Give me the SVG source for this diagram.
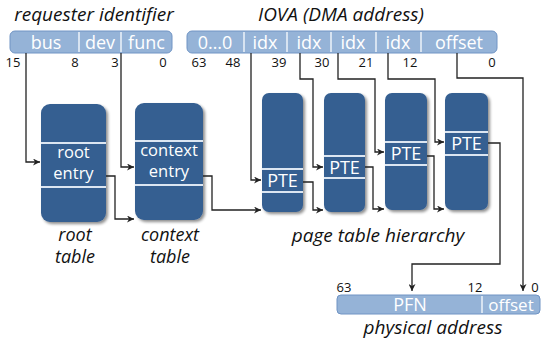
<svg xmlns="http://www.w3.org/2000/svg" width="541" height="342" viewBox="0 0 541 342">
<defs>
<marker id="arr" viewBox="0 0 10 10" refX="10" refY="5" markerWidth="7" markerHeight="7" orient="auto" markerUnits="userSpaceOnUse"><path d="M0,0 L10,5 L0,10 L3,5 Z" fill="#222"/></marker>
<filter id="sh" x="-20%" y="-20%" width="150%" height="150%"><feGaussianBlur in="SourceAlpha" stdDeviation="1.5"/><feOffset dx="2" dy="2"/><feComponentTransfer><feFuncA type="linear" slope="0.45"/></feComponentTransfer><feMerge><feMergeNode/><feMergeNode in="SourceGraphic"/></feMerge></filter>
<style>
.tbl{fill:#365f91;filter:url(#sh)}
.sep{stroke:#dce6f2;stroke-width:2}
.bar{fill:#95b3d7;stroke:#7094c4;stroke-width:1}
.div{stroke:#eef3fa;stroke-width:1.5}
.bt{font-family:"Open Sans","Noto Sans",sans-serif;font-size:18px;fill:#fff;text-anchor:middle}
.pt{font-family:"Open Sans","Noto Sans",sans-serif;font-size:18px;fill:#fff;text-anchor:middle}
.wt{font-family:"Open Sans","Noto Sans",sans-serif;font-size:16.5px;fill:#fff;text-anchor:middle}
.num{font-family:"Open Sans","Noto Sans",sans-serif;font-size:13px;fill:#111;text-anchor:middle}
.it{font-family:"Open Sans","Noto Sans",sans-serif;font-size:19px;font-style:italic;fill:#111;text-anchor:middle}
.it2{font-family:"Open Sans","Noto Sans",sans-serif;font-size:18px;font-style:italic;fill:#111;text-anchor:middle}
.ln{fill:none;stroke:#222;stroke-width:1.3}
</style>
</defs>
<rect width="541" height="342" fill="#fff"/>

<g id="requester-id">
<text class="it" x="94" y="21">requester identifier</text>
<rect class="bar" x="10" y="31" width="162" height="22" rx="5"/>
<line class="div" x1="79" y1="32" x2="79" y2="52"/>
<line class="div" x1="121" y1="32" x2="121" y2="52"/>
<text class="bt" x="46" y="49">bus</text>
<text class="bt" x="100" y="49">dev</text>
<text class="bt" x="146.5" y="49">func</text>
<text class="num" x="13" y="67">15</text>
<text class="num" x="75" y="67">8</text>
<text class="num" x="115" y="67">3</text>
<text class="num" x="163" y="67">0</text>
</g>

<g id="iova">
<text class="it" x="341" y="21">IOVA (DMA address)</text>
<rect class="bar" x="187" y="31" width="310" height="22" rx="5"/>
<line class="div" x1="244" y1="32" x2="244" y2="52"/>
<line class="div" x1="287" y1="32" x2="287" y2="52"/>
<line class="div" x1="331" y1="32" x2="331" y2="52"/>
<line class="div" x1="376" y1="32" x2="376" y2="52"/>
<line class="div" x1="421" y1="32" x2="421" y2="52"/>
<text class="bt" x="215" y="49">0…0</text>
<text class="bt" x="265" y="49">idx</text>
<text class="bt" x="309" y="49">idx</text>
<text class="bt" x="353" y="49">idx</text>
<text class="bt" x="398" y="49">idx</text>
<text class="bt" x="459" y="49">offset</text>
<text class="num" x="199" y="67">63</text>
<text class="num" x="233" y="67">48</text>
<text class="num" x="279" y="67">39</text>
<text class="num" x="322" y="67">30</text>
<text class="num" x="366" y="67">21</text>
<text class="num" x="410" y="67">12</text>
<text class="num" x="492" y="67">0</text>
</g>

<g id="root-table">
<rect class="tbl" x="41" y="104" width="65" height="118" rx="9"/>
<line class="sep" x1="41" y1="143" x2="106" y2="143"/>
<line class="sep" x1="41" y1="187" x2="106" y2="187"/>
<text class="wt" x="73.5" y="158">root</text>
<text class="wt" x="73.5" y="179">entry</text>
<text class="it2" x="75" y="241">root</text>
<text class="it2" x="75" y="263">table</text>
</g>

<g id="context-table">
<rect class="tbl" x="135" y="103" width="68" height="117" rx="9"/>
<line class="sep" x1="135" y1="141" x2="203" y2="141"/>
<line class="sep" x1="135" y1="185" x2="203" y2="185"/>
<text class="wt" x="169" y="156">context</text>
<text class="wt" x="169" y="177">entry</text>
<text class="it2" x="170" y="241">context</text>
<text class="it2" x="170" y="263">table</text>
</g>

<g id="pt1">
<rect class="tbl" x="262" y="93" width="41" height="119" rx="7"/>
<line class="sep" x1="262" y1="169" x2="303" y2="169"/>
<line class="sep" x1="262" y1="192" x2="303" y2="192"/>
<text class="pt" x="282.5" y="187">PTE</text>
</g>
<g id="pt2">
<rect class="tbl" x="324" y="93" width="41" height="119" rx="7"/>
<line class="sep" x1="324" y1="156" x2="365" y2="156"/>
<line class="sep" x1="324" y1="178" x2="365" y2="178"/>
<text class="pt" x="344.5" y="174">PTE</text>
</g>
<g id="pt3">
<rect class="tbl" x="385" y="93" width="42" height="117" rx="7"/>
<line class="sep" x1="385" y1="142" x2="427" y2="142"/>
<line class="sep" x1="385" y1="165" x2="427" y2="165"/>
<text class="pt" x="406" y="160">PTE</text>
</g>
<g id="pt4">
<rect class="tbl" x="445" y="93" width="43" height="117" rx="7"/>
<line class="sep" x1="445" y1="132" x2="488" y2="132"/>
<line class="sep" x1="445" y1="155" x2="488" y2="155"/>
<text class="pt" x="466.5" y="150">PTE</text>
</g>
<text class="it" x="378" y="242">page table hierarchy</text>

<g id="phys">
<rect class="bar" x="337" y="295" width="203" height="19" rx="4"/>
<line class="div" x1="482" y1="296" x2="482" y2="313"/>
<text class="bt" x="410" y="311">PFN</text>
<text class="bt" x="511" y="311" style="font-size:17px">offset</text>
<text class="num" x="344" y="292">63</text>
<text class="num" x="475" y="292">12</text>
<text class="num" x="535" y="292">0</text>
<text class="it" x="433" y="334">physical address</text>
</g>

<g id="connectors">
<path class="ln" marker-end="url(#arr)" d="M26,53 V162 H40"/>
<path class="ln" marker-end="url(#arr)" d="M121,53 V167 H134"/>
<path class="ln" marker-end="url(#arr)" d="M106,176 H115 V219 H134"/>
<path class="ln" marker-end="url(#arr)" d="M203,176 H212 V210 H261"/>
<path class="ln" marker-end="url(#arr)" d="M251,53 V180 H261"/>
<path class="ln" marker-end="url(#arr)" d="M300,53 V79 H313 V167 H323"/>
<path class="ln" marker-end="url(#arr)" d="M303,182 H313 V210 H323"/>
<path class="ln" marker-end="url(#arr)" d="M338,53 V79 H375 V152 H384"/>
<path class="ln" marker-end="url(#arr)" d="M365,167 H373 V209 H384"/>
<path class="ln" marker-end="url(#arr)" d="M388,53 V79 H435 V142 H444"/>
<path class="ln" marker-end="url(#arr)" d="M427,156 H434 V209 H444"/>
<path class="ln" marker-end="url(#arr)" d="M488,143 H500 V264 H412 V291"/>
<path class="ln" marker-end="url(#arr)" d="M457,53 V78 H523 V291"/>
</g>
</svg>
